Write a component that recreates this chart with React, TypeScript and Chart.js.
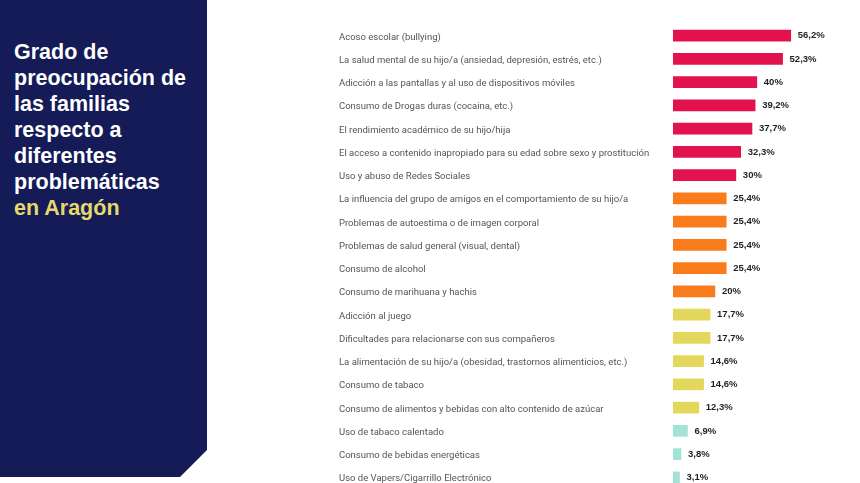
import React, { useEffect, useRef } from "react";
import { Chart, registerables } from "chart.js";

Chart.register(...registerables);

const categories: string[] = [
  "Acoso escolar (bullying)",
  "La salud mental de su hijo/a (ansiedad, depresión, estrés, etc.)",
  "Adicción a las pantallas y al uso de dispositivos móviles",
  "Consumo de Drogas duras (cocaina, etc.)",
  "El rendimiento académico de su hijo/hija",
  "El acceso a contenido inapropiado para su edad sobre sexo y prostitución",
  "Uso y abuso de Redes Sociales",
  "La influencia del grupo de amigos en el comportamiento de su hijo/a",
  "Problemas de autoestima o de imagen corporal",
  "Problemas de salud general (visual, dental)",
  "Consumo de alcohol",
  "Consumo de marihuana y hachis",
  "Adicción al juego",
  "Dificultades para relacionarse con sus compañeros",
  "La alimentación de su hijo/a (obesidad, trastornos alimenticios, etc.)",
  "Consumo de tabaco",
  "Consumo de alimentos y bebidas con alto contenido de azúcar",
  "Uso de tabaco calentado",
  "Consumo de bebidas energéticas",
  "Uso de Vapers/Cigarrillo Electrónico",
];

const values: number[] = [
  56.2, 52.3, 40, 39.2, 37.7, 32.3, 30, 25.4, 25.4, 25.4, 25.4, 20, 17.7, 17.7,
  14.6, 14.6, 12.3, 6.9, 3.8, 3.1,
];

const CRIMSON = "#e2124f";
const ORANGE = "#f97b1c";
const YELLOW = "#e3d85b";
const TEAL = "#a3e3d7";

const barColors: string[] = [
  CRIMSON, CRIMSON, CRIMSON, CRIMSON, CRIMSON, CRIMSON, CRIMSON,
  ORANGE, ORANGE, ORANGE, ORANGE, ORANGE,
  YELLOW, YELLOW, YELLOW, YELLOW, YELLOW,
  TEAL, TEAL, TEAL,
];

const titleLines: string[] = [
  "Grado de",
  "preocupación de",
  "las familias",
  "respecto a",
  "diferentes",
  "problemáticas",
];
const titleHighlight = "en Aragón";

const fmt = (v: number) => String(v).replace(".", ",") + "%";

const valueLabelPlugin = {
  id: "valueLabels",
  afterDatasetsDraw(chart: any) {
    const ctx = chart.ctx;
    const meta = chart.getDatasetMeta(0);
    ctx.save();
    ctx.font = "bold 9.5px 'Liberation Sans', Arial, sans-serif";
    ctx.fillStyle = "#1f1f1f";
    ctx.textAlign = "left";
    ctx.textBaseline = "middle";
    meta.data.forEach((bar: any, i: number) => {
      ctx.fillText(fmt(values[i]), bar.x + 7, bar.y);
    });
    ctx.restore();
  },
};

export default function App() {
  const canvasRef = useRef<HTMLCanvasElement | null>(null);

  useEffect(() => {
    if (!canvasRef.current) return;
    const chart = new Chart(canvasRef.current, {
      type: "bar",
      data: {
        labels: categories,
        datasets: [
          {
            data: values,
            backgroundColor: barColors,
            borderWidth: 0,
            barThickness: 11,
          },
        ],
      },
      options: {
        indexAxis: "y",
        responsive: false,
        animation: false,
        devicePixelRatio: 1,
        layout: { padding: { left: 339, top: 24, bottom: 11, right: 11 } },
        plugins: {
          legend: { display: false },
          tooltip: { enabled: false },
          title: { display: false },
        },
        scales: {
          x: { display: false, min: 0, max: 84 },
          y: {
            afterFit(scale: any) {
              scale.width = 334;
            },
            grid: { display: false },
            border: { display: false },
            ticks: {
              crossAlign: "far",
              autoSkip: false,
              labelOffset: 1.5,
              color: "#555555",
              font: { family: "Roboto, 'Noto Sans', sans-serif", size: 9.5 },
            },
          },
        },
      },
      plugins: [valueLabelPlugin],
    });
    return () => chart.destroy();
  }, []);

  return (
    <div
      style={{
        position: "fixed",
        top: 0,
        left: 0,
        width: 860,
        height: 483,
        overflow: "hidden",
        background: "#ffffff",
      }}
    >
      <div
        style={{
          position: "absolute",
          left: 0,
          top: 0,
          width: 207,
          height: 477,
          background: "#141b57",
          clipPath: "polygon(0 0, 207px 0, 207px 450px, 180px 477px, 0 477px)",
        }}
      />
      <div
        style={{
          position: "absolute",
          left: 14,
          top: 39,
          fontFamily: "'Liberation Sans', Arial, sans-serif",
          fontWeight: "bold",
          fontSize: 21.5,
          lineHeight: "26px",
          color: "#ffffff",
          whiteSpace: "nowrap",
        }}
      >
        {titleLines.map((l, i) => (
          <div key={i}>{l}</div>
        ))}
        <div style={{ color: "#e6d86b" }}>{titleHighlight}</div>
      </div>
      <canvas
        ref={canvasRef}
        width={860}
        height={500}
        style={{ position: "absolute", left: 0, top: 0, display: "block" }}
      />
    </div>
  );
}
